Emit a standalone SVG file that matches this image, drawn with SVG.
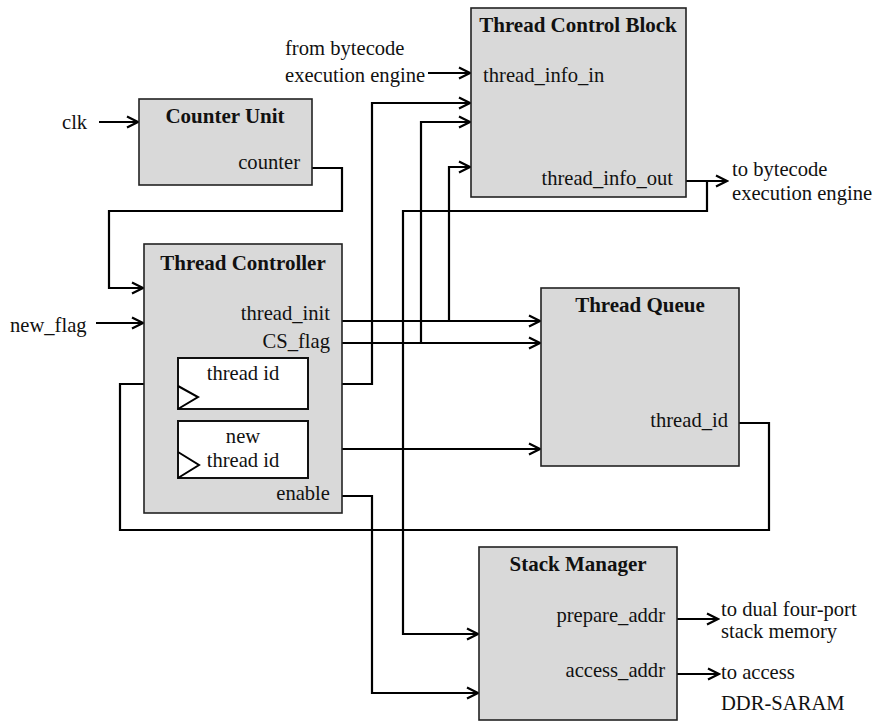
<svg xmlns="http://www.w3.org/2000/svg" width="878" height="722" viewBox="0 0 878 722">
<defs>
<style>
.box{fill:#d9d9d9;stroke:#222;stroke-width:1.6}
.sub{fill:#fff;stroke:#111;stroke-width:2}
.clk{fill:none;stroke:#000;stroke-width:2}
.t{font-family:"Liberation Serif","Times New Roman",serif;font-size:20.6px;fill:#111}
.b{font-family:"Liberation Serif","Times New Roman",serif;font-size:21px;font-weight:bold;fill:#111;text-anchor:middle}
.e{text-anchor:end}
.m{text-anchor:middle}
.w{fill:none;stroke:#000;stroke-width:2.2}
.a{marker-end:url(#arr)}
</style>
<marker id="arr" markerWidth="14" markerHeight="14" refX="12" refY="7" orient="auto" markerUnits="userSpaceOnUse">
<path d="M1,1.5 L12,7 L1,12.5" fill="none" stroke="#000" stroke-width="2.2"/>
</marker>
</defs>
<rect width="878" height="722" fill="#fff"/>

<g id="connectors">
<path class="w a" d="M428,73 H470"/>
<path class="w a" d="M99,122 H138"/>
<path class="w a" d="M312,168 H342 V211 H109 V288 H143"/>
<path class="w a" d="M96,323 H143"/>
<path class="w a" d="M342,321 H540"/>
<path class="w a" d="M449,321 V167 H470"/>
<path class="w a" d="M342,343 H540"/>
<path class="w a" d="M421,343 V122 H470"/>
<path class="w a" d="M308,384 H372 V103 H470"/>
<path class="w a" d="M308,449 H540"/>
<path class="w a" d="M342,496 H372 V693 H478"/>
<path class="w a" d="M739,423 H769 V530 H120 V384 H177"/>
<path class="w a" d="M686,181 H727"/>
<path class="w a" d="M707,181 V211 H403 V634 H478"/>
<path class="w a" d="M677,619 H718"/>
<path class="w a" d="M677,674 H719"/>
</g>

<g id="thread-control-block">
<rect class="box" x="471" y="8" width="215" height="189"/>
<text class="b" x="578" y="32">Thread Control Block</text>
<text class="t" x="483" y="82">thread_info_in</text>
<text class="t e" x="673" y="185">thread_info_out</text>
</g>

<g id="counter-unit">
<rect class="box" x="139" y="99" width="173" height="86"/>
<text class="b" x="225" y="123">Counter Unit</text>
<text class="t e" x="300" y="169">counter</text>
</g>

<g id="thread-controller">
<rect class="box" x="144" y="244" width="198" height="269"/>
<text class="b" x="243" y="270">Thread Controller</text>
<text class="t e" x="330" y="320">thread_init</text>
<text class="t e" x="330" y="348">CS_flag</text>
<text class="t e" x="330" y="500">enable</text>
</g>

<g id="thread-id-register">
<rect class="sub" x="178" y="358" width="130" height="51"/>
<polyline class="clk" points="178,386 198,397 178,409"/>
<text class="t m" x="243" y="380">thread id</text>
</g>

<g id="new-thread-id-register">
<rect class="sub" x="178" y="421" width="130" height="57"/>
<polyline class="clk" points="178,452 199,465 178,478"/>
<text class="t m" x="243" y="443">new</text>
<text class="t m" x="243" y="467">thread id</text>
</g>

<g id="thread-queue">
<rect class="box" x="541" y="288" width="198" height="178"/>
<text class="b" x="640" y="312">Thread Queue</text>
<text class="t e" x="728" y="427">thread_id</text>
</g>

<g id="stack-manager">
<rect class="box" x="479" y="547" width="198" height="173"/>
<text class="b" x="578" y="571">Stack Manager</text>
<text class="t e" x="665" y="622">prepare_addr</text>
<text class="t e" x="665" y="677">access_addr</text>
</g>

<g id="labels">
<text class="t" x="285" y="55">from bytecode</text>
<text class="t" x="285" y="82">execution engine</text>
<text class="t" x="732" y="176">to bytecode</text>
<text class="t" x="732" y="200">execution engine</text>
<text class="t" x="62" y="129">clk</text>
<text class="t" x="10" y="332">new_flag</text>
<text class="t" x="721" y="616">to dual four-port</text>
<text class="t" x="721" y="638">stack memory</text>
<text class="t" x="721" y="679">to access</text>
<text class="t" x="721" y="710">DDR-SARAM</text>
</g>
</svg>
